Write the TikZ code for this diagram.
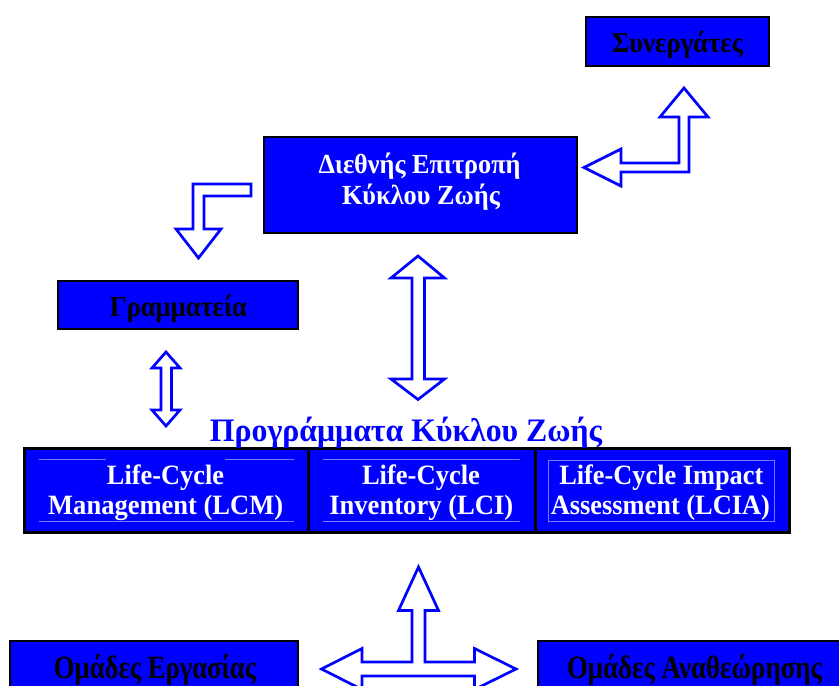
\documentclass[tikz,border=0pt]{standalone}
\usepackage{fontspec}
\setmainfont{Liberation Serif}
\usepackage{graphicx}
\newcommand\tline[3]{{\fontsize{#1}{#1}\selectfont\bfseries\resizebox{#2pt}{\height}{#3}}}
\definecolor{pblue}{RGB}{0,0,255}
\definecolor{faint}{RGB}{120,120,255}
\tikzset{
  box/.style={draw=black, line width=2.2pt, fill=pblue, inner sep=0pt},
  tbox/.style={draw=black, line width=3pt, fill=pblue, inner sep=0pt},
  txt/.style={inner sep=0pt, anchor=base},
  wtxt/.style={txt, text=white},
  btxt/.style={txt, text=black},
  blockarrow/.style={draw=pblue, line width=2.7pt, fill=white, line join=miter},
  faintline/.style={draw=faint, line width=0.7pt}
}
\begin{document}
\begin{tikzpicture}[x=1pt,y=-1pt]
\useasboundingbox (0,0) rectangle (839,686);
\clip (0,0) rectangle (839,686);

% boxes
\node[box, minimum width=183pt, minimum height=49pt] (syn) at (677.5,41.5) {};
\node[box, minimum width=313pt, minimum height=96pt] (ept) at (420.5,185) {};
\node[box, minimum width=240pt, minimum height=48pt] (gram) at (178,305) {};
\node[tbox, minimum width=765pt, minimum height=84pt] (prog) at (406.5,490) {};
\node[box, minimum width=288pt, minimum height=70pt] (erg) at (154,676) {};
\node[box, minimum width=312pt, minimum height=70pt] (anath) at (694,676) {};

% table dividers
\draw[black, line width=3pt] (308,448) -- (308,532);
\draw[black, line width=3pt] (535,448) -- (535,532);

% faint inner lines of the table
\draw[faintline] (38.5,459.5) -- (106,459.5);
\draw[faintline] (225,459.5) -- (293.5,459.5);
\draw[faintline] (38.5,521) -- (293.5,521);
\draw[faintline] (322.5,459.5) -- (520,459.5);
\draw[faintline] (322.5,521) -- (520,521);
\draw[faintline] (548.5,460) rectangle (774.5,521);

% texts
\node[btxt] (syn-t) at (677.5,52) {\tline{28.7}{131}{Συνεργάτες}};
\node[wtxt] (ept-t1) at (419.5,173) {\tline{27.6}{202}{Διεθνής Επιτροπή}};
\node[wtxt] (ept-t2) at (421,204) {\tline{27.6}{158}{Κύκλου Ζωής}};
\node[btxt] (gram-t) at (178.5,316) {\tline{29}{137}{Γραμματεία}};
\node[txt, text=pblue] (prog-t) at (406,441) {\tline{32.8}{392}{Προγράμματα Κύκλου Ζωής}};

\node[wtxt] (c1a) at (165.5,484) {\tline{28}{117}{Life-Cycle}};
\node[wtxt] (c1b) at (165.7,514) {\tline{28}{235}{Management (LCM)}};
\node[wtxt] (c2a) at (421,484) {\tline{28}{118}{Life-Cycle}};
\node[wtxt] (c2b) at (421.3,514) {\tline{28}{184}{Inventory (LCI)}};
\node[wtxt] (c3a) at (661.3,484) {\tline{28}{204}{Life-Cycle Impact}};
\node[wtxt] (c3b) at (660.4,514) {\tline{28}{219}{Assessment (LCIA)}};

\node[btxt] (erg-t) at (155,678.5) {\tline{32.5}{202}{Ομάδες Εργασίας}};
\node[btxt] (anath-t) at (694.5,678.5) {\tline{32.5}{255}{Ομάδες Αναθεώρησης}};

% block arrows
% Synergates <-> Diethnis (elbow)
\draw[blockarrow] (684,88) -- (708,117) -- (689,117) -- (689,172) -- (621,172) -- (621,186)
  -- (584,167.5) -- (621,149) -- (621,163) -- (679,163) -- (679,117) -- (660,117) -- cycle;
% Diethnis -> Grammateia (elbow)
\draw[blockarrow] (251,184) -- (251,196) -- (204,196) -- (204,229) -- (221,229) -- (198.5,258)
  -- (176,229) -- (193,229) -- (193,184) -- cycle;
% Grammateia <-> programmes
\draw[blockarrow] (166,352) -- (180,368) -- (171.5,368) -- (171.5,410) -- (180,410) -- (166,426)
  -- (152,410) -- (161,410) -- (161,368) -- (152,368) -- cycle;
% Diethnis <-> programmes
\draw[blockarrow] (418,256) -- (444.5,278) -- (424.5,278) -- (424.5,379) -- (444.5,379) -- (418,399.5)
  -- (391,379) -- (412,379) -- (412,278) -- (391,278) -- cycle;
% three-way arrow
\draw[blockarrow] (418.5,567) -- (438.5,610.5) -- (425,610.5) -- (425,662) -- (474.5,662) -- (474.5,648.5)
  -- (516,669) -- (474.5,689.5) -- (474.5,676) -- (362,676) -- (362,689.5) -- (321.5,669)
  -- (362,648.5) -- (362,662) -- (412,662) -- (412,610.5) -- (398.5,610.5) -- cycle;
\end{tikzpicture}
\end{document}
